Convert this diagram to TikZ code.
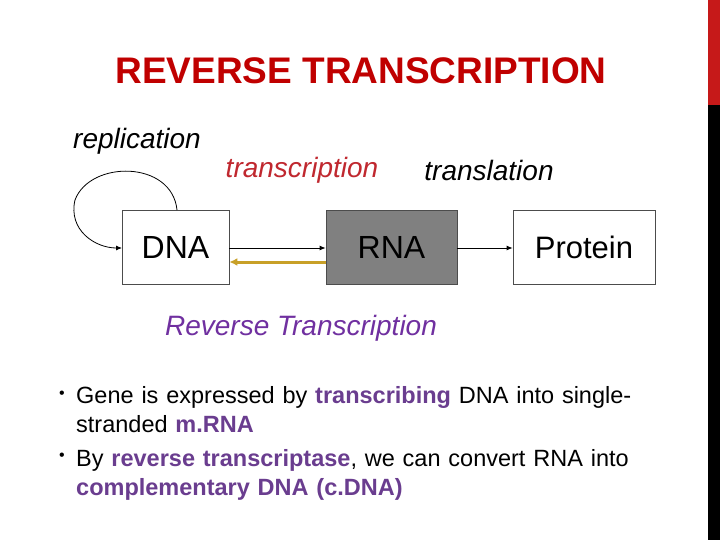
\documentclass[tikz,border=0pt]{standalone}
\usepackage{fontspec}
\setmainfont{Liberation Sans}
\usetikzlibrary{arrows.meta}
\definecolor{tred}{HTML}{C00000}
\definecolor{lred}{HTML}{C0282F}
\definecolor{purp}{HTML}{7030A0}
\definecolor{gold}{HTML}{C8A028}
\definecolor{bpurp}{HTML}{6A3D8F}
\begin{document}
\begin{tikzpicture}[x=1pt,y=-1pt,
  box/.style={draw=black!70,line width=0.8pt,minimum height=74pt,inner sep=0pt},
  lab/.style={font=\fontsize{28}{32}\selectfont\itshape},
  arr/.style={-{Latex[length=6pt,width=5pt]},line width=0.8pt},
  btxt/.style={anchor=north west,align=left,text width=640pt,inner sep=0pt,font=\fontsize{23.5}{34}\selectfont}]
\useasboundingbox (0,0) rectangle (720,540);
\fill[white] (0,0) rectangle (720,540);
\fill[tred!90!white] (708,0) rectangle (720,105);
\fill[black] (708,105) rectangle (720,540);
\node (title) at (361,71) {\fontsize{37}{42}\selectfont\bfseries\color{tred}REVERSE TRANSCRIPTION};
\node[lab] (rep) at (137,141) {replication};
\node[lab,text=lred] (tsc) at (302,170) {transcription};
\node[lab] (tsl) at (489,170) {translation};
\node[box,minimum width=107pt] (dna) at (175.5,247) {\fontsize{32}{36}\selectfont DNA};
\node[box,minimum width=131pt,fill=black!50] (rna) at (391.5,247) {\fontsize{32}{36}\selectfont RNA};
\node[box,minimum width=142pt] (pro) at (584,247) {\raisebox{-6pt}{\fontsize{31}{34}\selectfont Protein}};
\coordinate (dnaT) at (177,210);
\coordinate (dnaL) at (122,248);
\draw[arr] (dnaT) .. controls (172,160) and (90,160) .. (75,200) .. controls (68,230) and (95,248) .. (dnaL);
\draw[arr] (dna.east |- 0,248) -- (rna.west |- 0,248);
\draw[-{Latex[length=8pt,width=8pt]},line width=3pt,gold] (rna.west |- 0,262) -- (dna.east |- 0,262);
\draw[arr] (rna.east |- 0,248) -- (pro.west |- 0,248);
\node[lab,text=purp] (rt) at (301,328) {Reverse Transcription};
\node (b1) at (62,395) {\fontsize{16}{16}\selectfont •};
\node (b2) at (62,457) {\fontsize{16}{16}\selectfont •};
\node[btxt] (t1) at (76,386) {Gene is expressed by \textcolor{bpurp}{\bfseries transcribing} DNA into single-\\[-5pt]stranded \textcolor{bpurp}{\bfseries m.RNA}};
\node[btxt] (t2) at (76,449) {By \textcolor{bpurp}{\bfseries reverse transcriptase}, we can convert RNA into\\[-5pt]\textcolor{bpurp}{\bfseries complementary DNA (c.DNA)}};
\end{tikzpicture}
\end{document}
